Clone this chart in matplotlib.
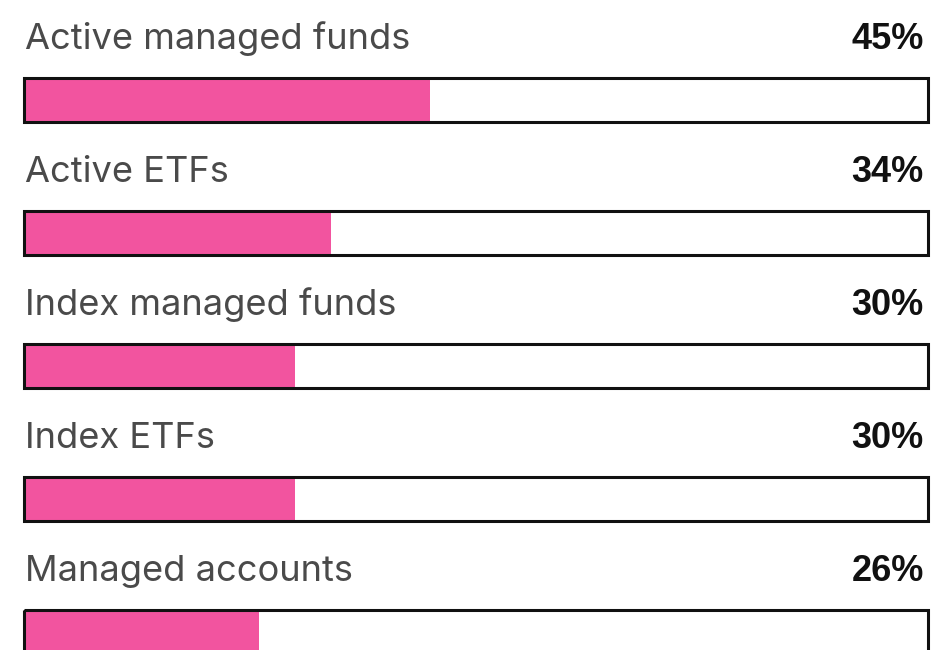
import matplotlib
matplotlib.use('Agg')
import matplotlib.pyplot as plt

# Data
categories = [
    'Active managed funds',
    'Active ETFs',
    'Index managed funds',
    'Index ETFs',
    'Managed accounts',
]
shares = [45, 34, 30, 30, 26]

PINK = '#F2549F'
LABEL_GREY = '#4A4A4A'

W, H = 935, 650
fig = plt.figure(figsize=(W / 100, H / 100), dpi=100)

# axes: x in percent, y in row units (133 px per row)
left_px, right_px = 23.5, 927.5
row_px = 133.0
first_center_px = 99.5
ax = fig.add_axes([left_px / W, 0, (right_px - left_px) / W, 1])
ax.set_xlim(0, 100)
ax.set_ylim((H - first_center_px) / row_px, -first_center_px / row_px)
ax.axis('off')

bar_h = 44 / row_px
rows = range(len(categories))

# pink fill
ax.barh(rows, shares, height=bar_h, color=PINK, linewidth=0, zorder=1)
# outline box
ax.barh(rows, [100] * len(categories), height=bar_h, fill=False,
        edgecolor='#111111', linewidth=2.2, zorder=2, clip_on=False)

for i, (name, val) in enumerate(zip(categories, shares)):
    y = i - 50.5 / row_px
    ax.text(0.2, y, name, ha='left', va='baseline', fontsize=26.1,
            family='Inter', color=LABEL_GREY)
    ax.text(99.6, y, f'{val}%', ha='right', va='baseline', fontsize=26,
            family='Liberation Sans', fontweight='bold', color='#111111')

fig.savefig('out.png', dpi=100)
